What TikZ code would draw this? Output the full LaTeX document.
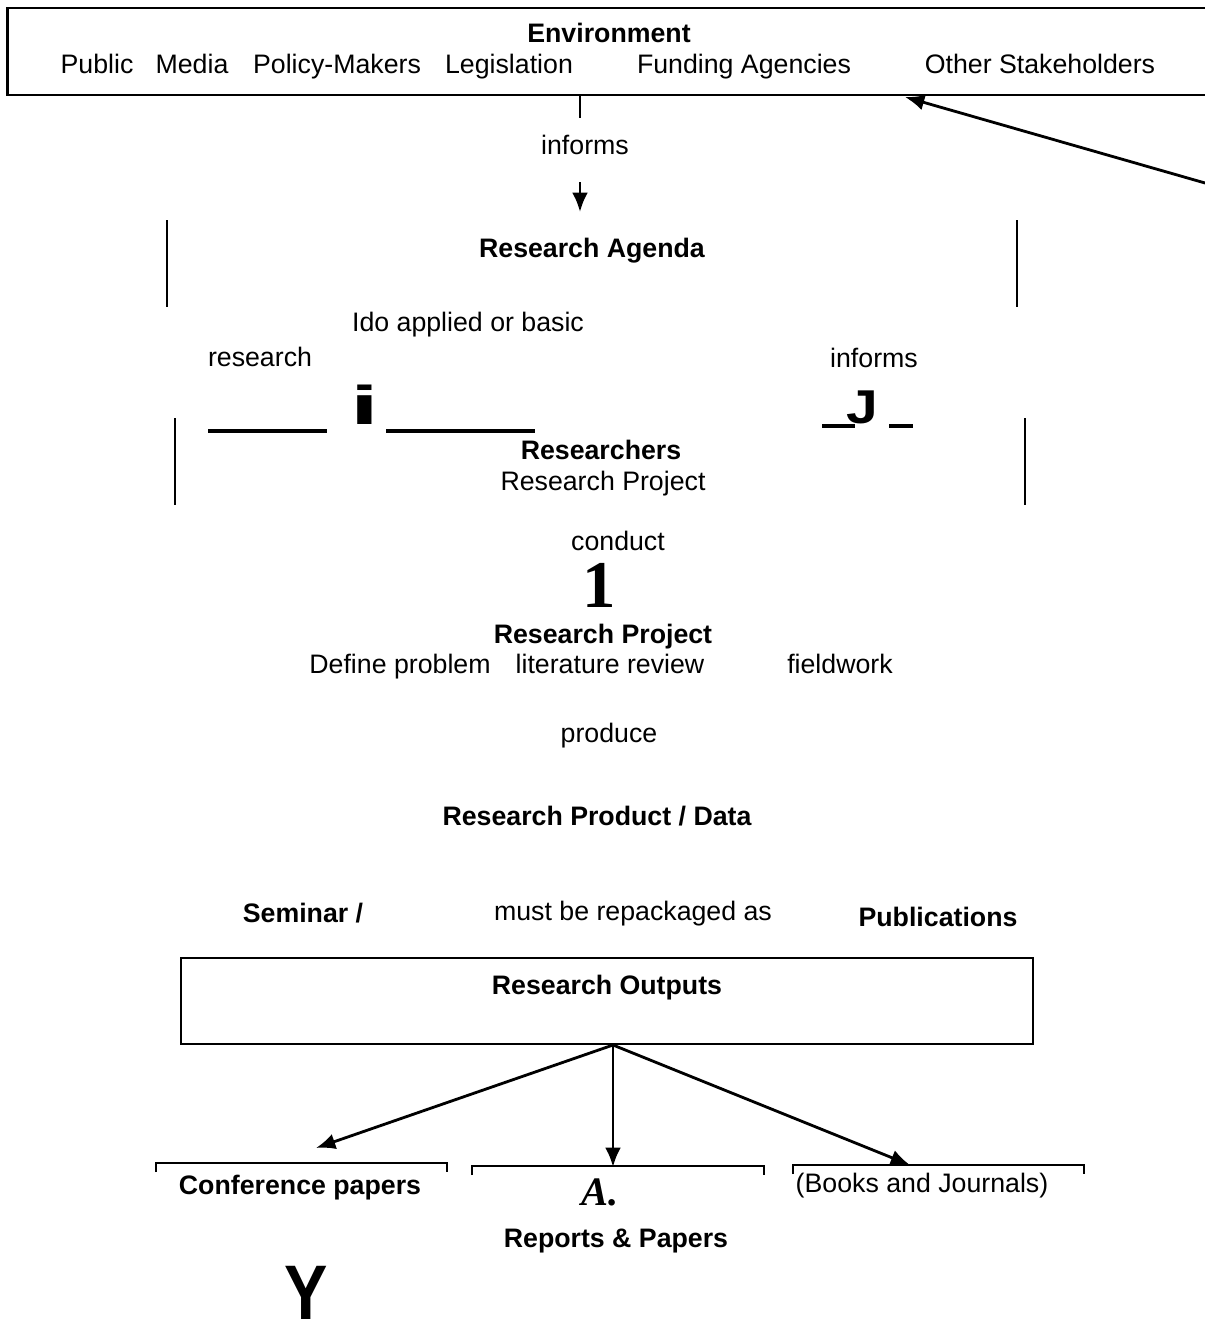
\documentclass[tikz,border=0pt]{standalone}
\usepackage{fontspec}
\setmainfont{Liberation Sans}
\newfontfamily\serifbig{Liberation Serif}
\usetikzlibrary{arrows.meta,positioning}

\begin{document}
\begin{tikzpicture}[x=0.01cm,y=-0.01cm,
  txt/.style={inner sep=0pt,text height=5.4pt,text depth=0pt,font=\fontsize{7.6}{9}\selectfont},
  btxt/.style={txt,font=\fontsize{7.6}{9}\selectfont\bfseries},
  arr/.style={line width=0.8pt,-{Latex[length=5.5pt,width=4.5pt]}},
  side/.style={line width=0.4pt},
  bar/.style={line width=1.15pt}]
\useasboundingbox (0,0) rectangle (1205,1335);
\clip (0,0) rectangle (1205,1335);

% environment
\node[draw,line width=0.7pt,minimum width=12.07cm,minimum height=0.87cm,inner sep=0pt] (env) at (611.5,51.5) {};
\node[btxt] (envt) at (609,33) {Environment};
\foreach \t/\x [count=\n] in {Public/97,Media/192,Policy-Makers/337,Legislation/509,Funding Agencies/744,Other Stakeholders/1040}
  \node[txt] (st\n) at (\x,64) {\t};

\coordinate (t1) at (580,96);
\coordinate (t2) at (580,118);
\draw[side] (t1) -- (t2);
\node[txt] (inf1) at (585,145) {informs};
\coordinate (a1) at (580,182);
\coordinate (a2) at (580,212);
\draw[arr] (a1) -- (a2);
\coordinate (far) at (1240,193);
\coordinate (fb) at (905,97);
\draw[arr] (far) -- (fb);

% research agenda
\draw[side] (167,220) -- (167,307);
\draw[side] (1017,220) -- (1017,307);
\node[btxt] (agenda) at (592,248) {Research Agenda};
\node[txt] (doap) at (468,322) {Ido applied or basic};
\node[txt] (res) at (260,357) {research};
\node[txt] (inf2) at (874,358) {informs};

\draw[bar] (208,431) -- (327,431);
\node[inner sep=0pt,anchor=north,font=\fontsize{15.5}{15.5}\selectfont\bfseries] (bigi) at (365,384) {\scalebox{1.9}[1]{i}};
\draw[bar] (386,431) -- (535,431);
\draw[bar] (822,426) -- (855,426);
\node[inner sep=0pt,anchor=north,font=\fontsize{13.5}{13.5}\selectfont\bfseries] (bigj) at (862,390) {\scalebox{1.2}[1]{J}};
\draw[bar] (889,426) -- (913,426);

% researchers
\draw[side] (175,418) -- (175,505);
\draw[side] (1025,418) -- (1025,505);
\node[btxt] (rsrch) at (601,450) {Researchers};
\node[txt] (rproj1) at (603,481) {Research Project};
\node[txt] (cond) at (618,541) {conduct};
\node[inner sep=0pt,anchor=north,font=\serifbig\fontsize{19}{19}\selectfont\bfseries] (one) at (599,563) {1};

% project
\node[btxt] (rproj2) at (603,634) {Research Project};
\node[txt] (defp) at (400,664) {Define problem};
\node[txt] (litr) at (610,664) {literature review};
\node[txt] (fldw) at (840,664) {fieldwork};
\node[txt] (prod) at (609,733) {produce};
\node[btxt] (data) at (597,816) {Research Product / Data};

% outputs
\node[btxt] (sem) at (303,913) {Seminar /};
\node[txt] (repack) at (633,911) {must be repackaged as};
\node[btxt] (pub) at (938,917) {Publications};
\node[draw,line width=0.7pt,minimum width=8.52cm,minimum height=0.86cm,inner sep=0pt] (outs) at (607,1001) {};
\node[btxt] (outt) at (607,985) {Research Outputs};

\foreach \xa/\xb/\yy [count=\n] in {156/447/1163,472/764/1166,793/1084/1165}
  \draw[side] (\xa,\yy+9) -- (\xa,\yy) -- (\xb,\yy) -- (\xb,\yy+9);

\coordinate (hub) at (613,1045);
\coordinate (b1) at (316,1148);
\coordinate (b2) at (613,1167);
\coordinate (b3) at (910,1165);
\foreach \b in {b1,b2,b3}
  \draw[arr] (hub) -- (\b);

\node[btxt] (conf) at (300,1185) {Conference papers};
\node[inner sep=0pt,anchor=north,font=\serifbig\fontsize{11.5}{11.5}\selectfont\bfseries\itshape] (aa) at (600,1178) {A.};
\node[txt] (books) at (922,1183) {(Books and Journals)};
\node[btxt] (reps) at (616,1238) {Reports \& Papers};
\node[inner sep=0pt,anchor=north,font=\fontsize{22}{22}\selectfont\bfseries] (bigy) at (306,1266) {\scalebox{0.84}[1]{Y}};
\end{tikzpicture}
\end{document}
